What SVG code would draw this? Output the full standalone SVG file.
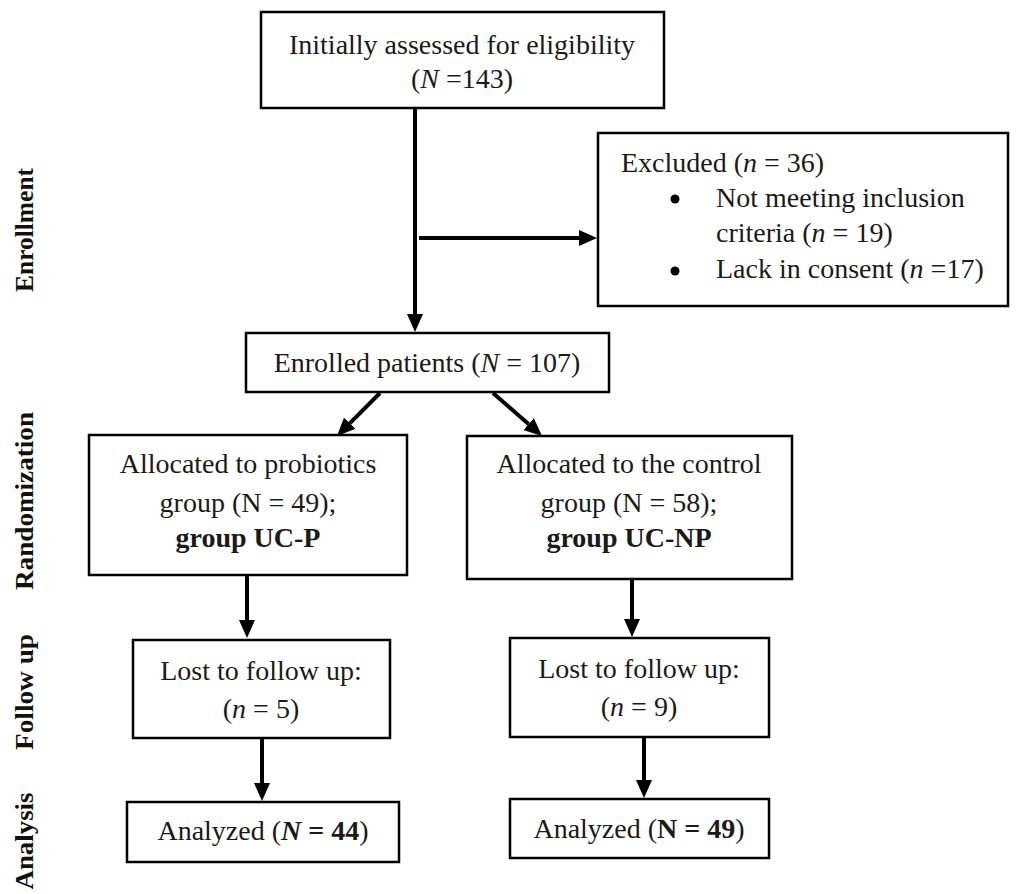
<svg xmlns="http://www.w3.org/2000/svg" width="1030" height="894" viewBox="0 0 1030 894">
<style>
.box{fill:#fff;stroke:#000;stroke-width:2.5}
.t{font-family:"Liberation Serif","Times New Roman",serif;font-size:28px;fill:#1a1a1a}
.c{text-anchor:middle}
.lab{font-family:"Liberation Serif","Times New Roman",serif;font-size:25px;font-weight:bold;fill:#111;text-anchor:middle}
.con{stroke:#000;stroke-width:4;fill:none;marker-end:url(#ah)}
</style>
<defs>
<marker id="ah" markerUnits="userSpaceOnUse" markerWidth="18" markerHeight="16" refX="0" refY="8" orient="auto">
<path d="M0,0 L18,8 L0,16 z" fill="#000"/>
</marker>
</defs>
<rect width="1030" height="894" fill="#fff"/>
<g id="labels">
<text class="lab" transform="translate(33,230) rotate(-90)" textLength="124" lengthAdjust="spacingAndGlyphs">Enrollment</text>
<text class="lab" transform="translate(33,501) rotate(-90)" textLength="178" lengthAdjust="spacingAndGlyphs">Randomization</text>
<text class="lab" transform="translate(33,692) rotate(-90)" textLength="116" lengthAdjust="spacingAndGlyphs">Follow up</text>
<text class="lab" transform="translate(33,841) rotate(-90)" textLength="97" lengthAdjust="spacingAndGlyphs">Analysis</text>
</g>
<g id="connectors">
<path class="con" d="M415,108 L415,314"/>
<path class="con" d="M419,238 L579,238"/>
<path class="con" d="M380,393 L349.7,423.3"/>
<path class="con" d="M493,393 L528.5,424.1"/>
<path class="con" d="M247,576 L247,620"/>
<path class="con" d="M262,738 L262,783"/>
<path class="con" d="M632,579 L632,619"/>
<path class="con" d="M644,737 L644,780"/>
</g>
<g id="assessed">
<rect class="box" x="261" y="12" width="403" height="96"/>
<text class="t c" x="462" y="54">Initially assessed for eligibility</text>
<text class="t c" x="462" y="88">(<tspan font-style="italic">N</tspan> =143)</text>
</g>
<g id="excluded">
<rect class="box" x="598" y="133" width="410" height="173"/>
<text class="t" x="621" y="172">Excluded (<tspan font-style="italic">n</tspan> = 36)</text>
<circle cx="675" cy="199" r="4.5" fill="#000"/>
<text class="t" x="716" y="207">Not meeting inclusion</text>
<text class="t" x="716" y="242">criteria (<tspan font-style="italic">n</tspan> = 19)</text>
<circle cx="675" cy="271" r="4.5" fill="#000"/>
<text class="t" x="716" y="278">Lack in consent (<tspan font-style="italic">n</tspan> =17)</text>
</g>
<g id="enrolled">
<rect class="box" x="246" y="333" width="363" height="59"/>
<text class="t c" x="427" y="372">Enrolled patients (<tspan font-style="italic">N</tspan> = 107)</text>
</g>
<g id="probiotics">
<rect class="box" x="89" y="435" width="318" height="140"/>
<text class="t c" x="248" y="473">Allocated to probiotics</text>
<text class="t c" x="248" y="512">group (N = 49);</text>
<text class="t c" x="248" y="547" font-weight="bold">group UC-P</text>
</g>
<g id="control">
<rect class="box" x="467" y="436" width="325" height="143"/>
<text class="t c" x="629" y="473">Allocated to the control</text>
<text class="t c" x="629" y="512">group (N = 58);</text>
<text class="t c" x="629" y="547" font-weight="bold">group UC-NP</text>
</g>
<g id="lost-p">
<rect class="box" x="133" y="640" width="257" height="98"/>
<text class="t c" x="261" y="680">Lost to follow up:</text>
<text class="t c" x="261" y="718">(<tspan font-style="italic">n</tspan> = 5)</text>
</g>
<g id="lost-np">
<rect class="box" x="510" y="638" width="259" height="99"/>
<text class="t c" x="639" y="678">Lost to follow up:</text>
<text class="t c" x="639" y="716">(<tspan font-style="italic">n</tspan> = 9)</text>
</g>
<g id="analyzed-p">
<rect class="box" x="127" y="802" width="272" height="60"/>
<text class="t c" x="263" y="840">Analyzed (<tspan font-weight="bold" font-style="italic">N</tspan><tspan font-weight="bold"> = 44</tspan>)</text>
</g>
<g id="analyzed-np">
<rect class="box" x="510" y="799" width="259" height="59"/>
<text class="t c" x="639" y="838">Analyzed (<tspan font-weight="bold">N = 49</tspan>)</text>
</g>
</svg>
